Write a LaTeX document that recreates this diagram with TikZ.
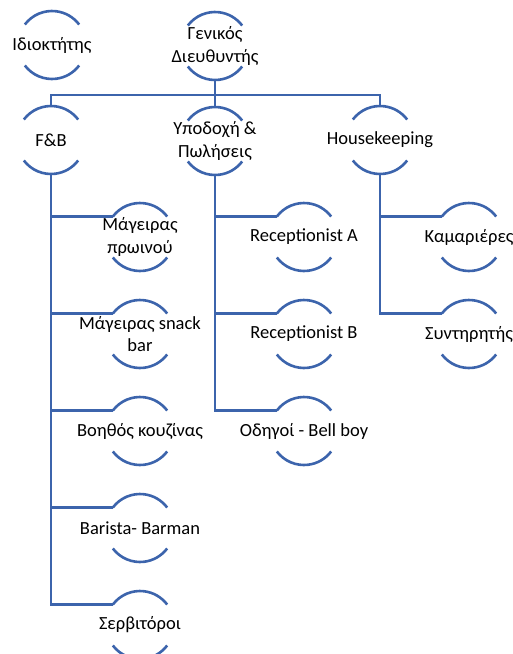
\documentclass[tikz,border=0pt]{standalone}
\usepackage{fontspec}
\setmainfont{Carlito}
\usetikzlibrary{calc}
\definecolor{orgblue}{RGB}{60,100,172}
\tikzset{
  lbl/.style={align=center, text=black, inner sep=0pt,
    font=\fontsize{18.5}{22.5}\selectfont},
  ln/.style={draw=orgblue, line width=2.8pt},
  arcln/.style={draw=orgblue, line width=2.6pt}
}
% a unit: label with an open circle (top and bottom arcs only)
\newcommand\orgunit[4]{%
  \node[lbl] (#1) at (#2,#3) {#4};
  \draw[arcln] ($(#1.center)+(143:34pt)$) arc[start angle=143,end angle=37,radius=34pt];
  \draw[arcln] ($(#1.center)+(-143:34pt)$) arc[start angle=-143,end angle=-37,radius=34pt];
  \coordinate (#1-t) at ($(#1.center)+(0,-34)$);
  \coordinate (#1-b) at ($(#1.center)+(0,34)$);
  \coordinate (#1-l) at ($(#1.center)+(143:34pt)$);
}
\begin{document}
\begin{tikzpicture}[x=1pt,y=-1pt]
\useasboundingbox (0,0) rectangle (512,654);

% top level
\orgunit{own}{52}{45}{Ιδιοκτήτης}
\orgunit{gm}{215}{46}{Γενικός\\Διευθυντής}

% departments
\orgunit{fb}{51}{140}{F\&B}
\orgunit{rec}{215}{141}{Υποδοχή \&\\Πωλήσεις}
\orgunit{hk}{380}{140}{Housekeeping}

% F&B staff
\orgunit{c1}{140}{237}{Μάγειρας\\πρωινού}
\orgunit{c2}{140}{334}{Μάγειρας snack\\bar}
\orgunit{c3}{140}{431}{Βοηθός κουζίνας}
\orgunit{c4}{140}{528}{Barista- Barman}
\orgunit{c5}{140}{625}{Σερβιτόροι}

% front office staff
\orgunit{r1}{304}{237}{Receptionist A}
\orgunit{r2}{304}{334}{Receptionist B}
\orgunit{r3}{304}{431}{Οδηγοί - Bell boy}

% housekeeping staff
\orgunit{h1}{469}{237}{Καμαριέρες}
\orgunit{h2}{469}{334}{Συντηρητής}

% connectors
\coordinate (bar) at (0,95);
\draw[ln] (gm-b) -- (rec-t);
\draw[ln] (fb-t) -- (fb-t |- bar) -- (hk-t |- bar) -- (hk-t);

\draw[ln] (fb-b) |- (c5-l);
\foreach \c in {c1,c2,c3,c4}
  \draw[ln] (fb-b |- \c-l) -- (\c-l);

\draw[ln] (rec-b) |- (r3-l);
\foreach \c in {r1,r2}
  \draw[ln] (rec-b |- \c-l) -- (\c-l);

\draw[ln] (hk-b) |- (h2-l);
\draw[ln] (hk-b |- h1-l) -- (h1-l);
\end{tikzpicture}
\end{document}
